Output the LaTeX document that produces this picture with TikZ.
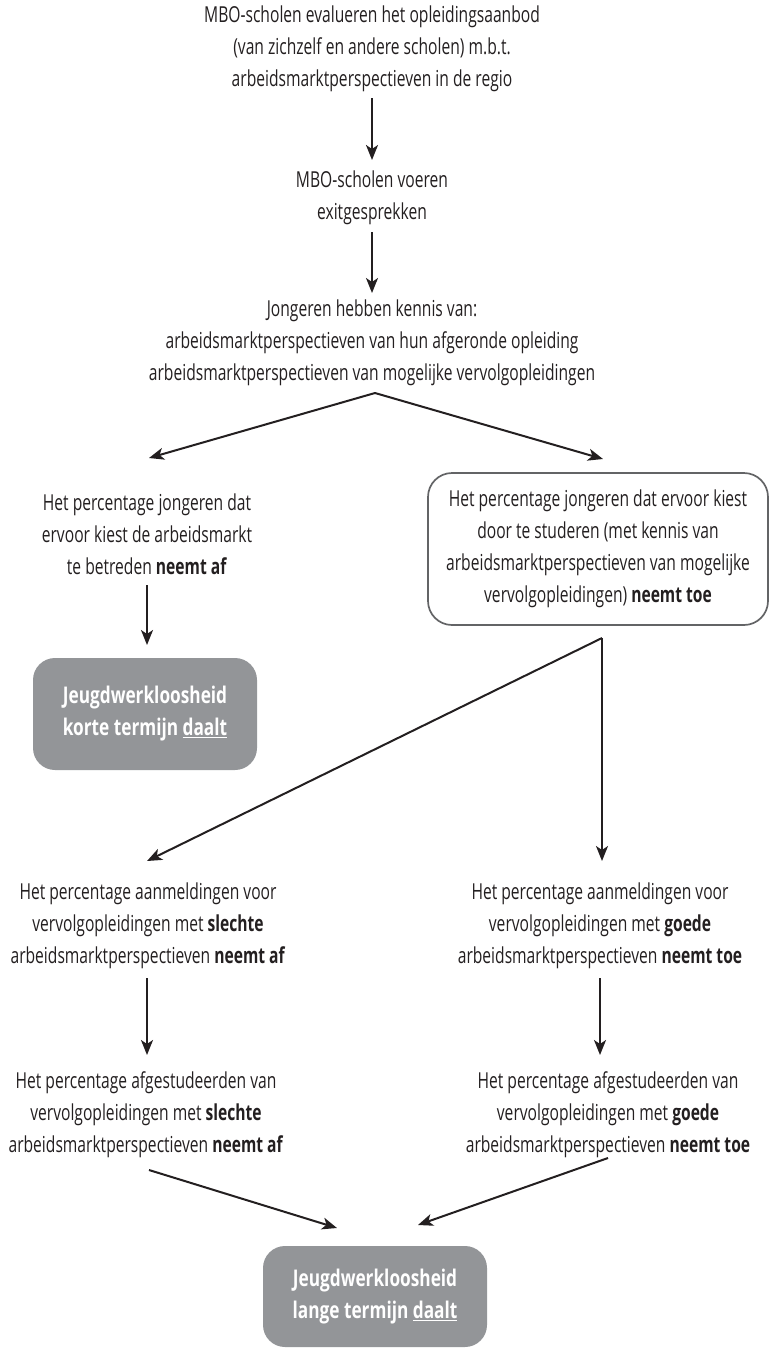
\documentclass[tikz,border=0pt]{standalone}
\usepackage{fontspec}
\setmainfont{Open Sans}[FakeStretch=0.71]
\newfontfamily\boxfont{Open Sans}[FakeStretch=0.75]
\usetikzlibrary{arrows.meta}
\definecolor{txt}{HTML}{231F20}
\definecolor{boxgray}{HTML}{939598}
\definecolor{edgegray}{HTML}{636466}
\tikzset{
 lbl/.style={align=center, font=\fontsize{22}{32}\selectfont, text=txt, inner sep=0pt},
 gbox/.style={align=center, inner sep=0pt, fill=boxgray, rounded corners=22pt, text=white, font=\boxfont\fontsize{23}{32}\selectfont\bfseries, minimum width=224pt},
 wbox/.style={lbl, draw=edgegray, line width=1.7pt, rounded corners=24pt, minimum width=340pt, minimum height=152pt},
 conn/.style={line width=2pt, draw=txt, -{Stealth[length=15pt,width=12pt,inset=4pt]}},
}
\begin{document}
\begin{tikzpicture}[x=1pt,y=-1pt]
\useasboundingbox (0,0) rectangle (769,1349);
\node[lbl] (t1) at (372,49) {MBO-scholen evalueren het opleidingsaanbod\\(van zichzelf en andere scholen) m.b.t.\\arbeidsmarktperspectieven in de regio};
\node[lbl] (t2) at (372,198) {MBO-scholen voeren\\exitgesprekken};
\node[lbl] (t3) at (372,343) {Jongeren hebben kennis van:\\arbeidsmarktperspectieven van hun afgeronde opleiding\\arbeidsmarktperspectieven van mogelijke vervolgopleidingen};
\node[lbl] (l1) at (147,534) {Het percentage jongeren dat\\ervoor kiest de arbeidsmarkt\\te betreden \textbf{neemt af}};
\node[wbox] (r1) at (598,549) {Het percentage jongeren dat ervoor kiest\\door te studeren (met kennis van\\arbeidsmarktperspectieven van mogelijke\\vervolgopleidingen) \textbf{neemt toe}};
\node[gbox, minimum height=112pt] (g1) at (145,714) {Jeugdwerkloosheid\\korte termijn \underline{daalt}};
\node[lbl] (l2) at (148,926) {Het percentage aanmeldingen voor\\vervolgopleidingen met \textbf{slechte}\\arbeidsmarktperspectieven \textbf{neemt af}};
\node[lbl] (r2) at (600,926) {Het percentage aanmeldingen voor\\vervolgopleidingen met \textbf{goede}\\arbeidsmarktperspectieven \textbf{neemt toe}};
\node[lbl] (l3) at (146,1115) {Het percentage afgestudeerden van\\vervolgopleidingen met \textbf{slechte}\\arbeidsmarktperspectieven \textbf{neemt af}};
\node[lbl] (r3) at (608,1115) {Het percentage afgestudeerden van\\vervolgopleidingen met \textbf{goede}\\arbeidsmarktperspectieven \textbf{neemt toe}};
\node[gbox, minimum height=101pt] (g2) at (375,1296.5) {Jeugdwerkloosheid\\lange termijn \underline{daalt}};
% connector helper points
\coordinate (a1s) at (372,98);  \coordinate (a1e) at (372,160);
\coordinate (a2s) at (372,232); \coordinate (a2e) at (372,293);
\coordinate (apex) at (375,393);
\coordinate (tipL1) at (149,458); \coordinate (tipR1) at (603,459);
\coordinate (a3s) at (147,585); \coordinate (a3e) at (147,645);
\coordinate (fork) at (602,638);
\coordinate (tipL2) at (147,861); \coordinate (tipR2) at (602,861);
\coordinate (a4s) at (147,978); \coordinate (a4e) at (147,1055);
\coordinate (a5s) at (600,978); \coordinate (a5e) at (600,1055);
\coordinate (a6s) at (149,1170); \coordinate (a6e) at (337,1228);
\coordinate (a7s) at (608,1158); \coordinate (a7e) at (418,1225);
\draw[conn] (a1s) -- (a1e);
\draw[conn] (a2s) -- (a2e);
\draw[conn] (apex) -- (tipL1);
\draw[conn] (apex) -- (tipR1);
\draw[conn] (a3s) -- (a3e);
\draw[conn] (fork) -- (tipL2);
\draw[conn] (fork) -- (tipR2);
\draw[conn] (a4s) -- (a4e);
\draw[conn] (a5s) -- (a5e);
\draw[conn] (a6s) -- (a6e);
\draw[conn] (a7s) -- (a7e);
\end{tikzpicture}
\end{document}
